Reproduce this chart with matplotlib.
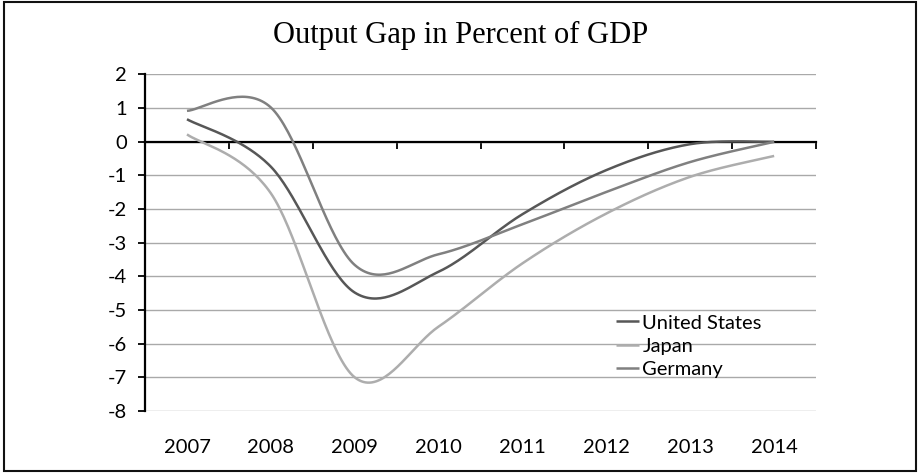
import matplotlib.pyplot as plt
import numpy as np
from matplotlib.patches import Rectangle

# -----------------------
# Data (output gap, % of GDP)
# -----------------------

years = ["2007", "2008", "2009", "2010", "2011", "2012", "2013", "2014"]
united_states = [0.67, -0.74, -4.48, -3.86, -2.15, -0.84, -0.07, 0.0]
japan = [0.22, -1.53, -7.00, -5.49, -3.61, -2.13, -1.04, -0.42]
germany = [0.92, 1.02, -3.66, -3.34, -2.45, -1.49, -0.60, 0.0]

series = [
    ("United States", united_states, "#575757"),
    ("Japan", japan, "#adadad"),
    ("Germany", germany, "#808080"),
]

y_ticks = list(range(-8, 3))


def smooth_line(values, steps=40):
    """Bezier smoothing through every point, like a spreadsheet 'smoothed line'."""
    x = np.arange(len(values), dtype=float)
    y = np.asarray(values, dtype=float)
    px = np.concatenate([[x[0]], x, [x[-1]]])
    py = np.concatenate([[y[0]], y, [y[-1]]])
    t = np.linspace(0, 1, steps)[:, None]
    out = []
    for i in range(len(x) - 1):
        p0 = np.array([px[i], py[i]])
        p1 = np.array([px[i + 1], py[i + 1]])
        p2 = np.array([px[i + 2], py[i + 2]])
        p3 = np.array([px[i + 3], py[i + 3]])
        c1 = p1 + (p2 - p0) / 6
        c2 = p2 - (p3 - p1) / 6
        seg = ((1 - t) ** 3) * p1 + 3 * ((1 - t) ** 2) * t * c1 \
            + 3 * (1 - t) * t ** 2 * c2 + t ** 3 * p2
        out.append(seg if i == 0 else seg[1:])
    pts = np.vstack(out)
    return pts[:, 0], pts[:, 1]


# -----------------------
# Figure
# -----------------------

plt.rcParams["font.family"] = ["Lato", "DejaVu Sans"]

fig = plt.figure(figsize=(9.18, 4.73), dpi=100)
ax = fig.add_axes([0.158, 0.131, 0.731, 0.7115])

for name, values, color in series:
    xs, ys = smooth_line(values)
    ax.plot(xs, ys, color=color, lw=1.8, label=name, zorder=3,
            solid_capstyle="butt")

ax.set_xlim(-0.5, len(years) - 0.5)
ax.set_ylim(-8, 2)

# horizontal gridlines
ax.set_yticks(y_ticks)
ax.set_yticklabels([str(v) for v in y_ticks])
ax.yaxis.grid(True, color="#a9a9a9", lw=1)
ax.set_axisbelow(True)

# category axis crosses at zero, with ticks between categories
ax.spines["bottom"].set_position(("data", 0))
ax.spines["bottom"].set_linewidth(1.6)
ax.spines["left"].set_linewidth(1.6)
ax.spines["top"].set_visible(False)
ax.spines["right"].set_visible(False)
ax.set_xticks(np.arange(-0.5, len(years), 1.0)[1:])
ax.set_xticklabels([])
ax.tick_params(axis="x", direction="out", length=5, width=1.3)
ax.tick_params(axis="y", direction="out", length=5, width=1.3,
               labelsize=14.5, pad=8)

# year labels sit below the plot area
sec = ax.secondary_xaxis(0)
sec.set_xticks(range(len(years)))
sec.set_xticklabels(years)
sec.tick_params(length=0, labelsize=14.5, pad=20)
sec.spines["bottom"].set_visible(False)

leg = ax.legend(loc="upper left", bbox_to_anchor=(0.702, 0.287),
                frameon=False, fontsize=14.5, handlelength=1.15,
                handletextpad=0.15, labelspacing=0.3, borderpad=0,
                borderaxespad=0)

fig.text(0.502, 0.924, "Output Gap in Percent of GDP",
         family="Liberation Serif", fontsize=22, ha="center", va="center")

# chart border
fig.patches.append(Rectangle((4 / 918, 2 / 473), 912 / 918, 469 / 473,
                             transform=fig.transFigure, fill=False,
                             edgecolor="#111111", lw=1.5))

fig.savefig("out.png", dpi=100)
